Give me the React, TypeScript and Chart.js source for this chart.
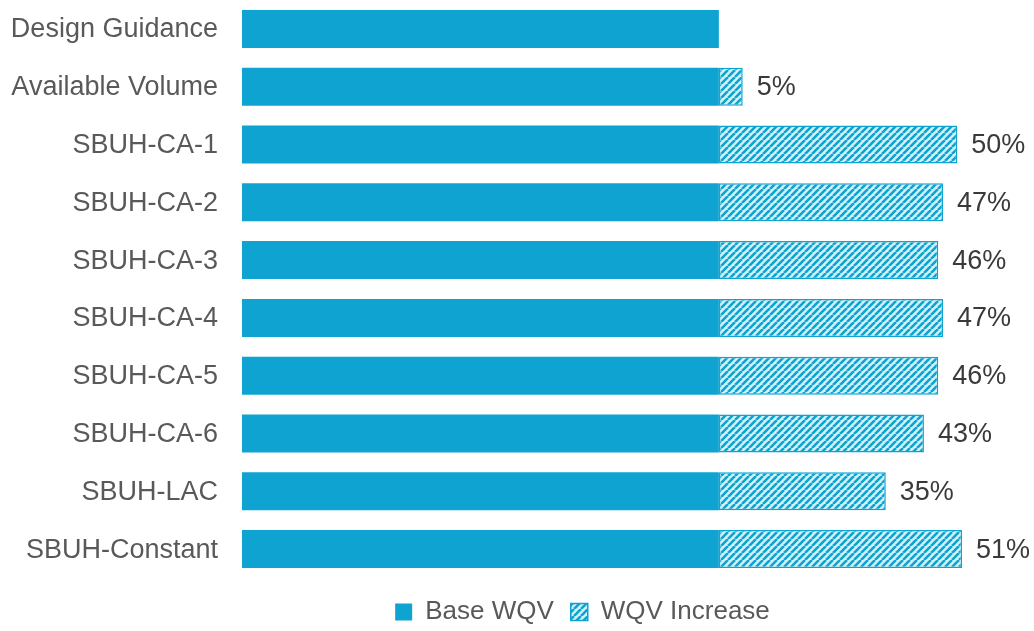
import React, { useEffect, useRef } from "react";
import { Chart, registerables } from "chart.js";

Chart.register(...registerables);

const categories = [
  "Design Guidance",
  "Available Volume",
  "SBUH-CA-1",
  "SBUH-CA-2",
  "SBUH-CA-3",
  "SBUH-CA-4",
  "SBUH-CA-5",
  "SBUH-CA-6",
  "SBUH-LAC",
  "SBUH-Constant",
];
const baseWQV = [100, 100, 100, 100, 100, 100, 100, 100, 100, 100];
const wqvIncrease = [0, 5, 50, 47, 46, 47, 46, 43, 35, 51];

const BLUE = "#0fa3d1";
const FONT = "'Liberation Sans', Arial, sans-serif";
const LABEL_SIZE = 27;

function makeHatch(): CanvasPattern | string {
  const c = document.createElement("canvas");
  const s = 7;
  c.width = s;
  c.height = s;
  const ctx = c.getContext("2d");
  if (!ctx) return BLUE;
  ctx.fillStyle = "#d0f2fa";
  ctx.fillRect(0, 0, s, s);
  ctx.strokeStyle = BLUE;
  ctx.lineWidth = 2.6;
  ctx.beginPath();
  for (let k = -1; k <= 1; k++) {
    ctx.moveTo(k * s, s);
    ctx.lineTo(k * s + s, 0);
  }
  ctx.stroke();
  const p = ctx.createPattern(c, "repeat");
  return p || BLUE;
}

// draws category names to the left of the bars and the % labels after them
const textLabels = {
  id: "textLabels",
  afterDatasetsDraw(chart: any) {
    const ctx = chart.ctx;
    const yScale = chart.scales.y;
    const meta = chart.getDatasetMeta(1);
    ctx.save();
    ctx.font = `${LABEL_SIZE}px ${FONT}`;
    ctx.textBaseline = "middle";
    ctx.textAlign = "right";
    ctx.fillStyle = "#595959";
    categories.forEach((cat, i) => {
      ctx.fillText(cat, chart.chartArea.left - 24, yScale.getPixelForValue(i) + 1);
    });
    ctx.textAlign = "left";
    ctx.fillStyle = "#3a3a3a";
    meta.data.forEach((bar: any, i: number) => {
      const v = wqvIncrease[i];
      if (!v) return;
      ctx.fillText(`${v}%`, bar.x + 14, bar.y + 1);
    });
    ctx.restore();
  },
};

// nudge the legend to sit where the reference puts it
const legendShift = {
  id: "legendShift",
  afterLayout(chart: any) {
    const lg = chart.legend;
    if (!lg) return;
    const sx = -37;
    const sy = 4;
    lg.left += sx;
    lg.right += sx;
    lg.top += sy;
    lg.bottom += sy;
  },
};

export default function App() {
  const ref = useRef<HTMLCanvasElement | null>(null);
  useEffect(() => {
    if (!ref.current) return;
    const hatch = makeHatch();
    const chart = new Chart(ref.current, {
      type: "bar",
      data: {
        labels: categories,
        datasets: [
          {
            label: "Base WQV",
            data: baseWQV,
            backgroundColor: BLUE,
            borderWidth: 0,
            categoryPercentage: 1,
            barPercentage: 0.657,
          },
          {
            label: "WQV Increase",
            data: wqvIncrease,
            backgroundColor: hatch as any,
            borderColor: BLUE,
            borderWidth: 1.5,
            borderSkipped: false,
            categoryPercentage: 1,
            barPercentage: 0.657,
          },
        ],
      },
      options: {
        indexAxis: "y",
        animation: false,
        responsive: true,
        maintainAspectRatio: false,
        layout: { padding: { left: 234, right: 29, top: 0, bottom: 0 } },
        scales: {
          x: {
            stacked: true,
            min: 0,
            max: 160,
            display: false,
          },
          y: {
            stacked: true,
            grid: { display: false },
            border: { display: false },
            ticks: { display: false },
          },
        },
        plugins: {
          legend: {
            position: "bottom",
            labels: {
              color: "#595959",
              font: { size: 26, family: FONT },
              boxWidth: 17,
              boxHeight: 17,
              padding: 17,
            },
          },
          tooltip: { enabled: false },
        },
      },
      plugins: [textLabels, legendShift],
    });
    return () => chart.destroy();
  }, []);
  return (
    <div style={{ position: "fixed", left: 0, top: 0, width: 1034, height: 631, background: "#fff" }}>
      <canvas ref={ref} />
    </div>
  );
}
